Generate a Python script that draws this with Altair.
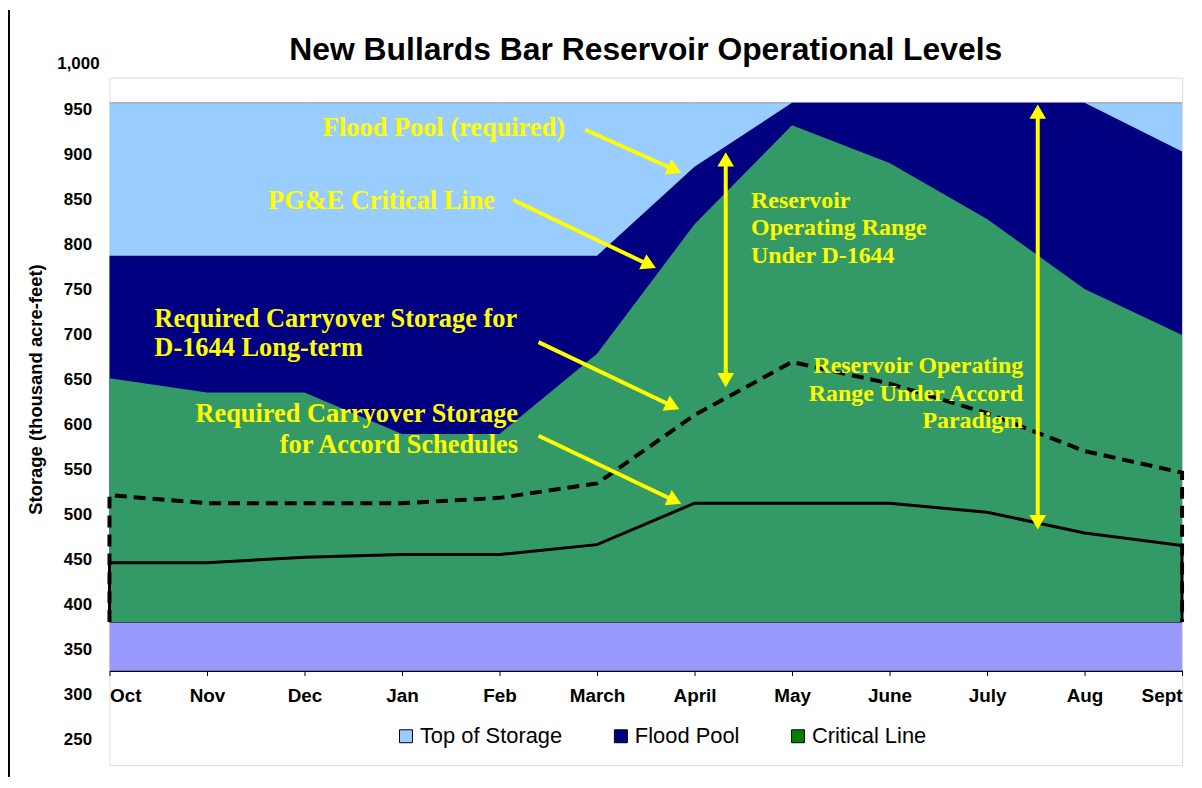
import math
import altair as alt
import pandas as pd

# ---------------- data ----------------
MONTHS = ["Oct", "Nov", "Dec", "Jan", "Feb", "March", "April", "May", "June", "July", "Aug", "Sept"]
TOP_OF_STORAGE = [966, 966, 966, 966, 966, 966, 966, 966, 966, 966, 966, 966]
FLOOD_POOL = [796, 796, 796, 796, 796, 796, 895, 966, 966, 966, 966, 912]
CRITICAL_LINE = [660, 644, 644, 598, 598, 687, 831, 941, 899, 837, 759, 708]
D1644_CARRYOVER = [530, 521, 521, 521, 527, 543, 619, 678, 654, 621, 579, 555]
ACCORD_CARRYOVER = [455, 455, 461, 464, 464, 475, 521, 521, 521, 511, 488, 474]
AREA_FLOOR = 389
AXIS_FLOOR = 335
Y_TICKS = [250, 300, 350, 400, 450, 500, 550, 600, 650, 700, 750, 800, 850, 900, 950]
LEGEND_NAMES = ["Top of Storage", "Flood Pool", "Critical Line"]
LEGEND_COLORS = ["#99CCFF", "#000080", "#008000"]

# annotations (text, month index, storage)
ANNOT_BIG_LEFT = [("Required Carryover Storage for", 0.46, 726), ("D-1644 Long-term", 0.46, 694)]
ANNOT_BIG_CENTER = [("Flood Pool (required)", 3.43, 938), ("PG&E Critical Line", 2.79, 857)]
ANNOT_BIG_RIGHT = [("Required Carryover Storage", 4.19, 620), ("for Accord Schedules", 4.19, 586)]
ANNOT_SMALL_LEFT = [("Reservoir", 6.58, 857), ("Operating Range", 6.58, 827), ("Under D-1644", 6.58, 796)]
ANNOT_SMALL_RIGHT = [("Reservoir Operating", 9.37, 673), ("Range Under Accord", 9.37, 642),
                     ("Paradigm", 9.37, 612)]
# arrows: start x, start y, tip x, tip y, double-headed
ARROWS = [(4.88, 936, 5.87, 888, False), (4.14, 858, 5.61, 782, False),
          (4.40, 700, 5.85, 625, False), (4.40, 596, 5.87, 520, False),
          (6.32, 649, 6.32, 912, True), (9.52, 491, 9.52, 965, True)]

# ---------------- layout ----------------
W, H = 1078, 691
Y_MIN, Y_MAX = 230, 994
SX = W / 11.0
SY = H / float(Y_MAX - Y_MIN)
SANS = "Liberation Sans"
SERIF = "Liberation Serif"
YELLOW = "#FFFF00"

df = pd.DataFrame({
    "m": list(range(12)), "month": MONTHS, "top": TOP_OF_STORAGE, "flood": FLOOD_POOL,
    "critical": CRITICAL_LINE, "floor": [AREA_FLOOR] * 12, "axis_floor": [AXIS_FLOOR] * 12,
})

label_expr = "[" + ",".join("'%s'" % m for m in MONTHS) + "][datum.value]"
x_axis = alt.Axis(values=list(range(12)), labelExpr=label_expr, title=None, grid=False,
                  offset=-95, tickSize=5, tickColor="black", domainColor="black", domainWidth=2,
                  labelFont=SANS, labelFontWeight="bold", labelFontSize=19, labelColor="black",
                  labelPadding=11, labelFlush=True, labelOverlap=False)
y_axis = alt.Axis(values=Y_TICKS, title="Storage (thousand acre-feet)", grid=False, ticks=False,
                  domain=False, labelFont=SANS, labelFontWeight="bold", labelFontSize=17,
                  labelColor="black", labelPadding=18, labelOffset=-8, labelOverlap=False,
                  labelFlush=False, titleFont=SANS, titleFontWeight="bold", titleFontSize=18.5,
                  titleColor="black", titleAngle=270, titleAlign="center", titleBaseline="middle",
                  titleX=-74, titleY=313)
x_scale = alt.Scale(domain=[0, 11], nice=False, zero=False)
y_scale = alt.Scale(domain=[Y_MIN, Y_MAX], nice=False, zero=False)


def xch(f):
    return alt.X(f + ":Q", scale=x_scale, axis=x_axis)


def ych(f):
    return alt.Y(f + ":Q", scale=y_scale, axis=y_axis)


base = alt.Chart(df)
lavender = base.mark_area(color="#9999FF", opacity=1,
                          line={"color": "#222222", "strokeWidth": 1.5}).encode(
    x=xch("m"), y=ych("floor"), y2="axis_floor")
top_area = base.mark_area(color="#99CCFF", opacity=1,
                          line={"color": "#999999", "strokeWidth": 1}).encode(
    x=xch("m"), y=ych("top"), y2="floor")
flood_area = base.mark_area(color="#000080", opacity=1).encode(
    x=xch("m"), y=ych("flood"), y2="floor")
crit_area = base.mark_area(color="#339966", opacity=1).encode(
    x=xch("m"), y=ych("critical"), y2="floor")


def outline(values):
    rows = [{"m": 0, "v": AREA_FLOOR, "o": 0}]
    rows += [{"m": i, "v": v, "o": i + 1} for i, v in enumerate(values)]
    rows += [{"m": 11, "v": AREA_FLOOR, "o": 13}]
    return pd.DataFrame(rows)


d1644_line = alt.Chart(outline(D1644_CARRYOVER)).mark_line(
    color="black", strokeWidth=4, strokeDash=[12, 7]).encode(x=xch("m"), y=ych("v"), order="o:Q")
accord_line = alt.Chart(outline(ACCORD_CARRYOVER)).mark_line(
    color="black", strokeWidth=3).encode(x=xch("m"), y=ych("v"), order="o:Q")

# arrows
HEAD_BACK = 8
rule_rows, head_rows = [], []
for x1, y1, x2, y2, both in ARROWS:
    dx = (x2 - x1) * SX
    dy = -(y2 - y1) * SY
    L = math.hypot(dx, dy)
    ux, uy = dx / L, dy / L
    ang = (math.degrees(math.atan2(uy, ux)) + 90) % 360
    ex, ey = x2 - HEAD_BACK * ux / SX, y2 + HEAD_BACK * uy / SY
    head_rows.append({"x": ex, "y": ey, "a": ang})
    sx_, sy_ = x1, y1
    if both:
        sx_, sy_ = x1 + HEAD_BACK * ux / SX, y1 - HEAD_BACK * uy / SY
        head_rows.append({"x": sx_, "y": sy_, "a": (ang + 180) % 360})
    rule_rows.append({"x": sx_, "y": sy_, "x2": ex, "y2": ey})

arrow_rules = alt.Chart(pd.DataFrame(rule_rows)).mark_rule(color=YELLOW, strokeWidth=4).encode(
    x=xch("x"), y=ych("y"), x2="x2:Q", y2="y2:Q")
arrow_heads = alt.Chart(pd.DataFrame(head_rows)).mark_point(
    shape="triangle-up", filled=True, color=YELLOW, opacity=1, size=280).encode(
    x=xch("x"), y=ych("y"), angle=alt.Angle("a:Q", scale=None))


def annot(rows, align, size):
    d = pd.DataFrame(rows, columns=["t", "x", "y"])
    return alt.Chart(d).mark_text(align=align, baseline="middle", font=SERIF, fontWeight="bold",
                                  fontSize=size, color=YELLOW).encode(
        x=xch("x"), y=ych("y"), text="t:N")


texts = [annot(ANNOT_BIG_LEFT, "left", 26.5), annot(ANNOT_BIG_CENTER, "center", 26.5),
         annot(ANNOT_BIG_RIGHT, "right", 26.5), annot(ANNOT_SMALL_LEFT, "left", 24),
         annot(ANNOT_SMALL_RIGHT, "right", 24)]

top_label = alt.Chart(pd.DataFrame({"v": [1000], "t": ["1,000"]})).mark_text(
    align="right", baseline="middle", dy=-8, font=SANS, fontWeight="bold", fontSize=17,
    color="black").encode(x=alt.value(-10), y=ych("v"), text="t:N")

legend_df = pd.DataFrame({"series": LEGEND_NAMES, "m": [0, 0, 0],
                          "v": [TOP_OF_STORAGE[0], FLOOD_POOL[0], CRITICAL_LINE[0]]})
legend_layer = alt.Chart(legend_df).mark_square(opacity=0).encode(
    x=xch("m"), y=ych("v"),
    color=alt.Color("series:N", scale=alt.Scale(domain=LEGEND_NAMES, range=LEGEND_COLORS),
                    legend=alt.Legend(title=None, orient="none", legendX=287, legendY=651,
                                      direction="horizontal", columns=3, symbolType="square",
                                      symbolSize=169, symbolStrokeColor="black",
                                      symbolStrokeWidth=1, symbolOpacity=1, labelFont=SANS,
                                      labelFontSize=22, labelColor="black", labelOffset=3,
                                      columnPadding=47, padding=0)))

border = alt.Chart(pd.DataFrame({"k": [0]})).mark_rule(color="black", strokeWidth=2).encode(
    x=alt.value(-101), y=alt.value(-68), y2=alt.value(H + 12))

chart = alt.layer(
    lavender, top_area, flood_area, crit_area, d1644_line, accord_line,
    arrow_rules, arrow_heads, *texts, top_label, legend_layer, border
).properties(
    width=W, height=H,
    title=alt.TitleParams("New Bullards Bar Reservoir Operational Levels", font=SANS, fontSize=32,
                          fontWeight="bold", color="black", anchor="middle", frame="group",
                          offset=14, baseline="alphabetic", dy=97),
    autosize=alt.AutoSizeParams(type="none"),
    padding={"left": 102, "top": 68, "right": 12, "bottom": 10},
).configure_view(stroke="black", strokeWidth=2).configure(background="white")

chart.save("out.html", embed_options={"renderer": "svg", "actions": False})
